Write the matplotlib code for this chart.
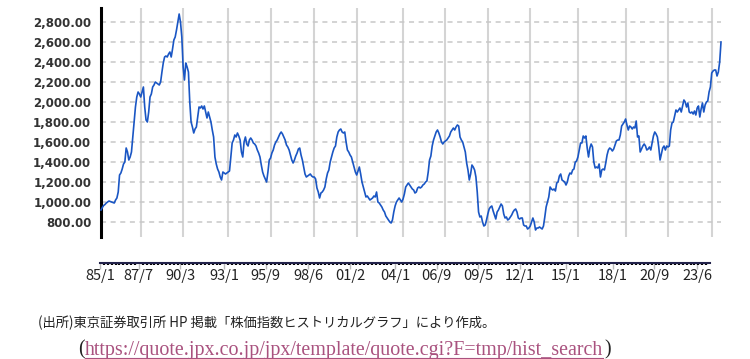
import numpy as np
import matplotlib.pyplot as plt
from matplotlib.lines import Line2D

# TOPIX, monthly, starting 1985/1
topix_1985_1994 = [
    920, 945, 965, 975, 990, 1000, 1010, 1005, 1000, 995, 990, 1020,
    1040, 1100, 1270, 1290, 1330, 1380, 1400, 1540, 1500, 1420, 1450, 1500,
    1650, 1800, 1950, 2050, 2100, 2080, 2050, 2100, 2150, 1950, 1820, 1800,
    1900, 2050, 2080, 2150, 2170, 2200, 2190, 2180, 2170, 2200, 2300, 2390,
    2450, 2460, 2450, 2480, 2500, 2450, 2530, 2620, 2650, 2720, 2800, 2880,
    2800, 2650, 2350, 2220, 2390, 2350, 2300, 2000, 1800, 1750, 1690, 1730,
    1750, 1850, 1950, 1940, 1960, 1930, 1960, 1900, 1840, 1900, 1850, 1800,
    1720, 1650, 1450, 1380, 1330, 1300, 1250, 1220, 1300, 1290, 1280, 1290,
    1300, 1310, 1450, 1590, 1620, 1670, 1650, 1690, 1660, 1620, 1500, 1450,
    1600, 1650, 1580, 1560, 1620, 1640, 1620, 1590, 1580, 1560, 1520, 1490,
]
topix_1995_2004 = [
    1450, 1370, 1300, 1260, 1230, 1200, 1300, 1420, 1440, 1490, 1520, 1570,
    1600, 1620, 1650, 1680, 1700, 1680, 1650, 1620, 1570, 1550, 1520, 1470,
    1420, 1390, 1420, 1460, 1490, 1530, 1540, 1470, 1420, 1350, 1280, 1250,
    1260, 1270, 1280, 1260, 1250, 1250, 1230, 1140, 1100, 1040, 1090, 1100,
    1120, 1150, 1230, 1290, 1320, 1400, 1450, 1500, 1540, 1560, 1650, 1700,
    1720, 1730, 1700, 1690, 1700, 1600, 1520, 1500, 1470, 1450, 1400, 1350,
    1300, 1270, 1310, 1350, 1280, 1200, 1150, 1100, 1050, 1060, 1040, 1020,
    1030, 1040, 1060, 1050, 1100, 1000, 990, 970, 950, 920, 900, 860,
    840, 820, 800, 790, 820, 900, 960, 1000, 1020, 1040, 1020, 1000,
    1030, 1080, 1150, 1170, 1190, 1170, 1150, 1130, 1120, 1090, 1100, 1140,
]
topix_2005_2014 = [
    1150, 1140, 1150, 1170, 1180, 1200, 1210, 1300, 1420, 1460, 1560, 1620,
    1660, 1700, 1720, 1690, 1650, 1600, 1580, 1600, 1610, 1620, 1640, 1660,
    1700, 1720, 1740, 1720, 1750, 1770, 1760, 1650, 1620, 1600, 1550, 1500,
    1390, 1320, 1220, 1280, 1370, 1350, 1320, 1250, 1100, 900, 850, 860,
    800, 760, 770, 820, 880, 930, 950, 960, 910, 870, 830, 900,
    920, 950, 980, 960, 880, 840, 850, 820, 830, 850, 870, 900,
    920, 930, 900, 840, 830, 840, 840, 770, 760, 760, 730, 740,
    760, 800, 840, 800, 720, 740, 740, 750, 740, 730, 760, 850,
    950, 1000, 1050, 1150, 1130, 1120, 1130, 1110, 1190, 1200, 1260, 1280,
    1220, 1210, 1200, 1170, 1200, 1260, 1290, 1280, 1320, 1330, 1400, 1410,
]
topix_2015_2024 = [
    1450, 1520, 1590, 1590, 1660, 1640, 1660, 1540, 1450, 1540, 1580, 1550,
    1400, 1340, 1350, 1340, 1380, 1250, 1320, 1330, 1320, 1390, 1470, 1520,
    1540, 1530, 1510, 1530, 1570, 1610, 1620, 1620, 1670, 1760, 1780, 1800,
    1830, 1770, 1720, 1760, 1750, 1730, 1750, 1740, 1810, 1650, 1660, 1500,
    1530, 1560, 1580, 1560, 1520, 1530, 1550, 1520, 1590, 1660, 1700, 1680,
    1650, 1550, 1420, 1480, 1540, 1560, 1520, 1560, 1550, 1560, 1720, 1790,
    1800, 1860, 1920, 1900, 1920, 1940, 1900, 1960, 2020, 2000, 1950, 1990,
    1900, 1890, 1900, 1880, 1910, 1870, 1940, 1960, 1850, 1930, 1990, 1900,
    1970, 2000, 2010, 2100, 2150, 2290, 2310, 2320, 2320, 2260, 2300, 2400,
    2600,
]

tick_labels = ['85/1', '87/7', '90/3', '93/1', '95/9', '98/6', '01/2', '04/1',
               '06/9', '09/5', '12/1', '15/1', '18/1', '20/9', '23/6']
y_ticks = [800, 1000, 1200, 1400, 1600, 1800, 2000, 2200, 2400, 2600, 2800]

source_text = '(出所)東京証券取引所 HP 掲載「株価指数ヒストリカルグラフ」により作成。'
url_text = 'https://quote.jpx.co.jp/jpx/template/quote.cgi?F=tmp/hist_search'

values = topix_1985_1994 + topix_1995_2004 + topix_2005_2014 + topix_2015_2024
t = 1985 + np.arange(len(values)) / 12


def label_to_year(s):
    yy, mm = s.split('/')
    yy = int(yy)
    yy += 1900 if yy > 50 else 2000
    return yy + (int(mm) - 1) / 12


tick_pos = [label_to_year(s) for s in tick_labels]

W, H = 750, 359
fig = plt.figure(figsize=(W / 100, H / 100), dpi=100)

# main chart
ax = fig.add_axes([101 / W, 1 - 237 / H, (721 - 101) / W, (237 - 8) / H])
ax.plot(t, values, color='#1a56c4', lw=1.2, zorder=3, clip_on=False)
ax.set_xlim(1985, 2024)
ax.set_ylim(650, 2940)
ax.set_xticks(tick_pos)
ax.set_xticklabels([])
ax.set_yticks(y_ticks)
ax.set_yticklabels([f'{v:,.2f}' for v in y_ticks])
ax.tick_params(axis='both', length=0)
ax.tick_params(axis='y', pad=7, labelsize=8.5, labelcolor='#333333')
for lab in ax.get_yticklabels():
    lab.set_fontweight('bold')
ax.xaxis.grid(True, color='#d4d4d4', lw=1.5, ls='-')
ax.yaxis.grid(True, color='#c8c8c8', lw=1.1, ls=(0, (3.3, 3)))
ax.set_axisbelow(True)
for s in ['top', 'right', 'bottom']:
    ax.spines[s].set_visible(False)
ax.spines['left'].set_linewidth(2.2)
ax.spines['left'].set_color('black')

# separate date axis underneath
ax2 = fig.add_axes([100 / W, 1 - 263 / H, 610 / W, 0.001])
ax2.patch.set_visible(False)
ax2.set_xlim(1985, 1985 + 610 / 15.54)
ax2.set_ylim(0, 1)
ax2.set_yticks([])
for s in ['top', 'right', 'left']:
    ax2.spines[s].set_visible(False)
ax2.spines['bottom'].set_color('#22224a')
ax2.spines['bottom'].set_linewidth(1.5)
ax2.set_xticks(tick_pos)
ax2.set_xticklabels(tick_labels, family=['Noto Sans CJK JP', 'DejaVu Sans'])
ax2.set_xticks(np.arange(1985, 2024.25, 0.25), minor=True)
ax2.tick_params(which='major', length=4, width=1, color='#bbbbbb', pad=0.5,
                labelsize=10.5, labelcolor='#222222')
ax2.tick_params(which='minor', length=1.6, width=1.6, color='black')

# footer
t1 = fig.text(38 / W, 1 - 323 / H, source_text, fontsize=9, va='center',
              family=['Noto Sans CJK JP', 'DejaVu Sans'], color='#222222')
p1 = fig.text(78 / W, 1 - 350 / H, '(', fontsize=10, va='center',
              family='Liberation Serif', color='#222222')
u = fig.text(85 / W, 1 - 350 / H, url_text, fontsize=10, va='center',
             family='Liberation Serif', color='#a9527f')

fig.canvas.draw()
r = fig.canvas.get_renderer()
w1 = t1.get_window_extent(r).width
t1.set_fontsize(9 * (497 - 38) / w1)
wu = u.get_window_extent(r).width
u.set_fontsize(10 * (601 - 85) / wu)
p1.set_fontsize(10 * (601 - 85) / wu)
fig.canvas.draw()
bb = u.get_window_extent(r)
p2 = fig.text((bb.x1 + 1) / W, 1 - 350 / H, ')', fontsize=u.get_fontsize(),
              va='center', family='Liberation Serif', color='#222222')
uy = (bb.y0 + 1.5) / H
fig.add_artist(Line2D([bb.x0 / W, bb.x1 / W], [uy, uy], lw=0.8,
                      color='#a9527f', transform=fig.transFigure))

fig.savefig('out.png', dpi=100)
